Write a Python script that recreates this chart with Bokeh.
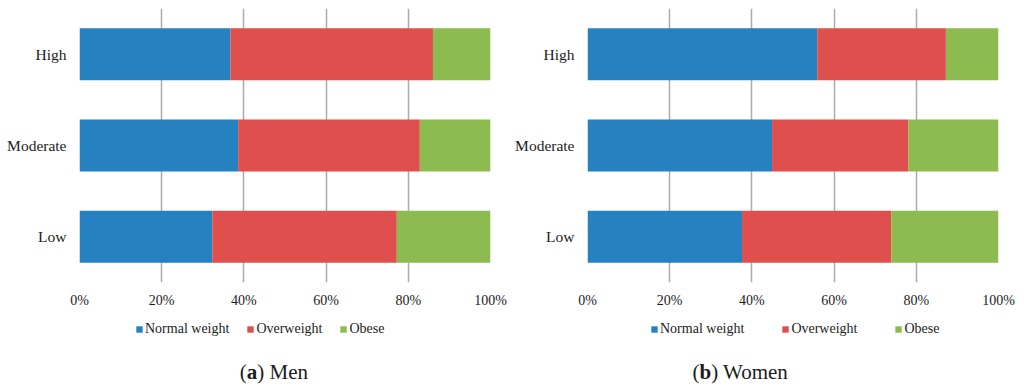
from bokeh.plotting import figure
from bokeh.models import (ColumnDataSource, Range1d, FactorRange, FixedTicker,
                          PrintfTickFormatter, Legend, LegendItem, Label)
from bokeh.layouts import row, column
from bokeh.embed import file_html
from bokeh.resources import INLINE

categories = ["Low", "Moderate", "High"]
series = ["Normal weight", "Overweight", "Obese"]
colors = ["#2581C0", "#DE4F4E", "#8DBB4F"]
x_ticks = [0, 20, 40, 60, 80, 100]

men_normal = [32.3, 38.6, 36.7]
men_over = [44.9, 44.2, 49.3]
men_obese = [22.8, 17.2, 14.0]

women_normal = [37.6, 44.9, 55.9]
women_over = [36.3, 33.2, 31.3]
women_obese = [26.1, 21.9, 12.8]

FONT = "Liberation Serif"
TEXT = "#1c1c1c"
STACK = ["n", "o", "b"]

src_men = ColumnDataSource(dict(cat=categories, n=men_normal, o=men_over, b=men_obese))
src_women = ColumnDataSource(dict(cat=categories, n=women_normal, o=women_over, b=women_obese))


def panel(src, border_left, border_right):
    p = figure(width=512, height=310, output_backend="svg", toolbar_location=None,
               x_range=Range1d(0, 100), y_range=FactorRange(factors=categories),
               min_border_left=border_left, min_border_right=border_right,
               min_border_top=8, min_border_bottom=28)
    p.outline_line_color = None
    p.hbar_stack(STACK, y="cat", height=0.57, color=colors, source=src, line_color=None)

    p.ygrid.grid_line_color = None
    p.xgrid.grid_line_color = "#ABABAB"
    p.xgrid.grid_line_width = 1.5
    p.xaxis.ticker = FixedTicker(ticks=x_ticks)
    p.xgrid.ticker = FixedTicker(ticks=x_ticks)
    p.xaxis.formatter = PrintfTickFormatter(format="%d%%")

    for ax in (p.xaxis[0], p.yaxis[0]):
        ax.axis_line_color = None
        ax.major_tick_line_color = None
        ax.minor_tick_line_color = None
        ax.major_tick_out = 0
        ax.major_tick_in = 0
        ax.major_label_text_font = FONT
        ax.major_label_text_color = TEXT
    p.xaxis.major_label_text_font_size = "14px"
    p.xaxis.major_label_standoff = 10
    p.yaxis.major_label_text_font_size = "15.5px"
    p.yaxis.major_label_standoff = 13
    return p


pa = panel(src_men, 79, 22)
pb = panel(src_women, 75, 26)

# bottom strip: legends and captions (legend swatches come from hidden copies of the stacks)
bottom = figure(width=1024, height=79, output_backend="svg", toolbar_location=None,
                x_range=Range1d(0, 100), y_range=FactorRange(factors=categories),
                x_axis_type=None, y_axis_type=None,
                min_border_left=0, min_border_right=0, min_border_top=0, min_border_bottom=0)
bottom.outline_line_color = None
bottom.xgrid.visible = False
bottom.ygrid.visible = False

for src, lx, spacing in ((src_men, 135, 17), (src_women, 650, 37)):
    rs = bottom.hbar_stack(STACK, y="cat", height=0.57, color=colors, source=src,
                           line_color=None)
    for r in rs:
        r.visible = False
    items = [LegendItem(label=s, renderers=[r]) for s, r in zip(series, rs)]
    leg = Legend(items=items, orientation="horizontal", location=(lx, 52.2),
                 glyph_width=8, glyph_height=8, label_standoff=2, label_height=8,
                 spacing=spacing, padding=0, margin=0,
                 border_line_color=None, background_fill_alpha=0,
                 inactive_fill_alpha=0, click_policy="none",
                 label_text_font=FONT, label_text_font_size="14px",
                 label_text_color=TEXT)
    bottom.add_layout(leg, "center")

fs = 21
common = dict(y=17.3, x_units="screen", y_units="screen", text_font=FONT,
              text_font_size=f"{fs}px", text_color=TEXT, text_baseline="middle",
              text_align="left")
for cx, letter, rest, lw in ((239.3, "a", ") Men", 0.5), (692, "b", ") Women", 0.556)):
    bottom.add_layout(Label(x=cx, text="(", **common))
    bottom.add_layout(Label(x=cx + 0.333 * fs, text=letter, text_font_style="bold", **common))
    bottom.add_layout(Label(x=cx + (0.333 + lw) * fs, text=rest, **common))

layout = column(row(pa, pb), bottom)
open("out.html", "w").write(file_html(layout, INLINE))
